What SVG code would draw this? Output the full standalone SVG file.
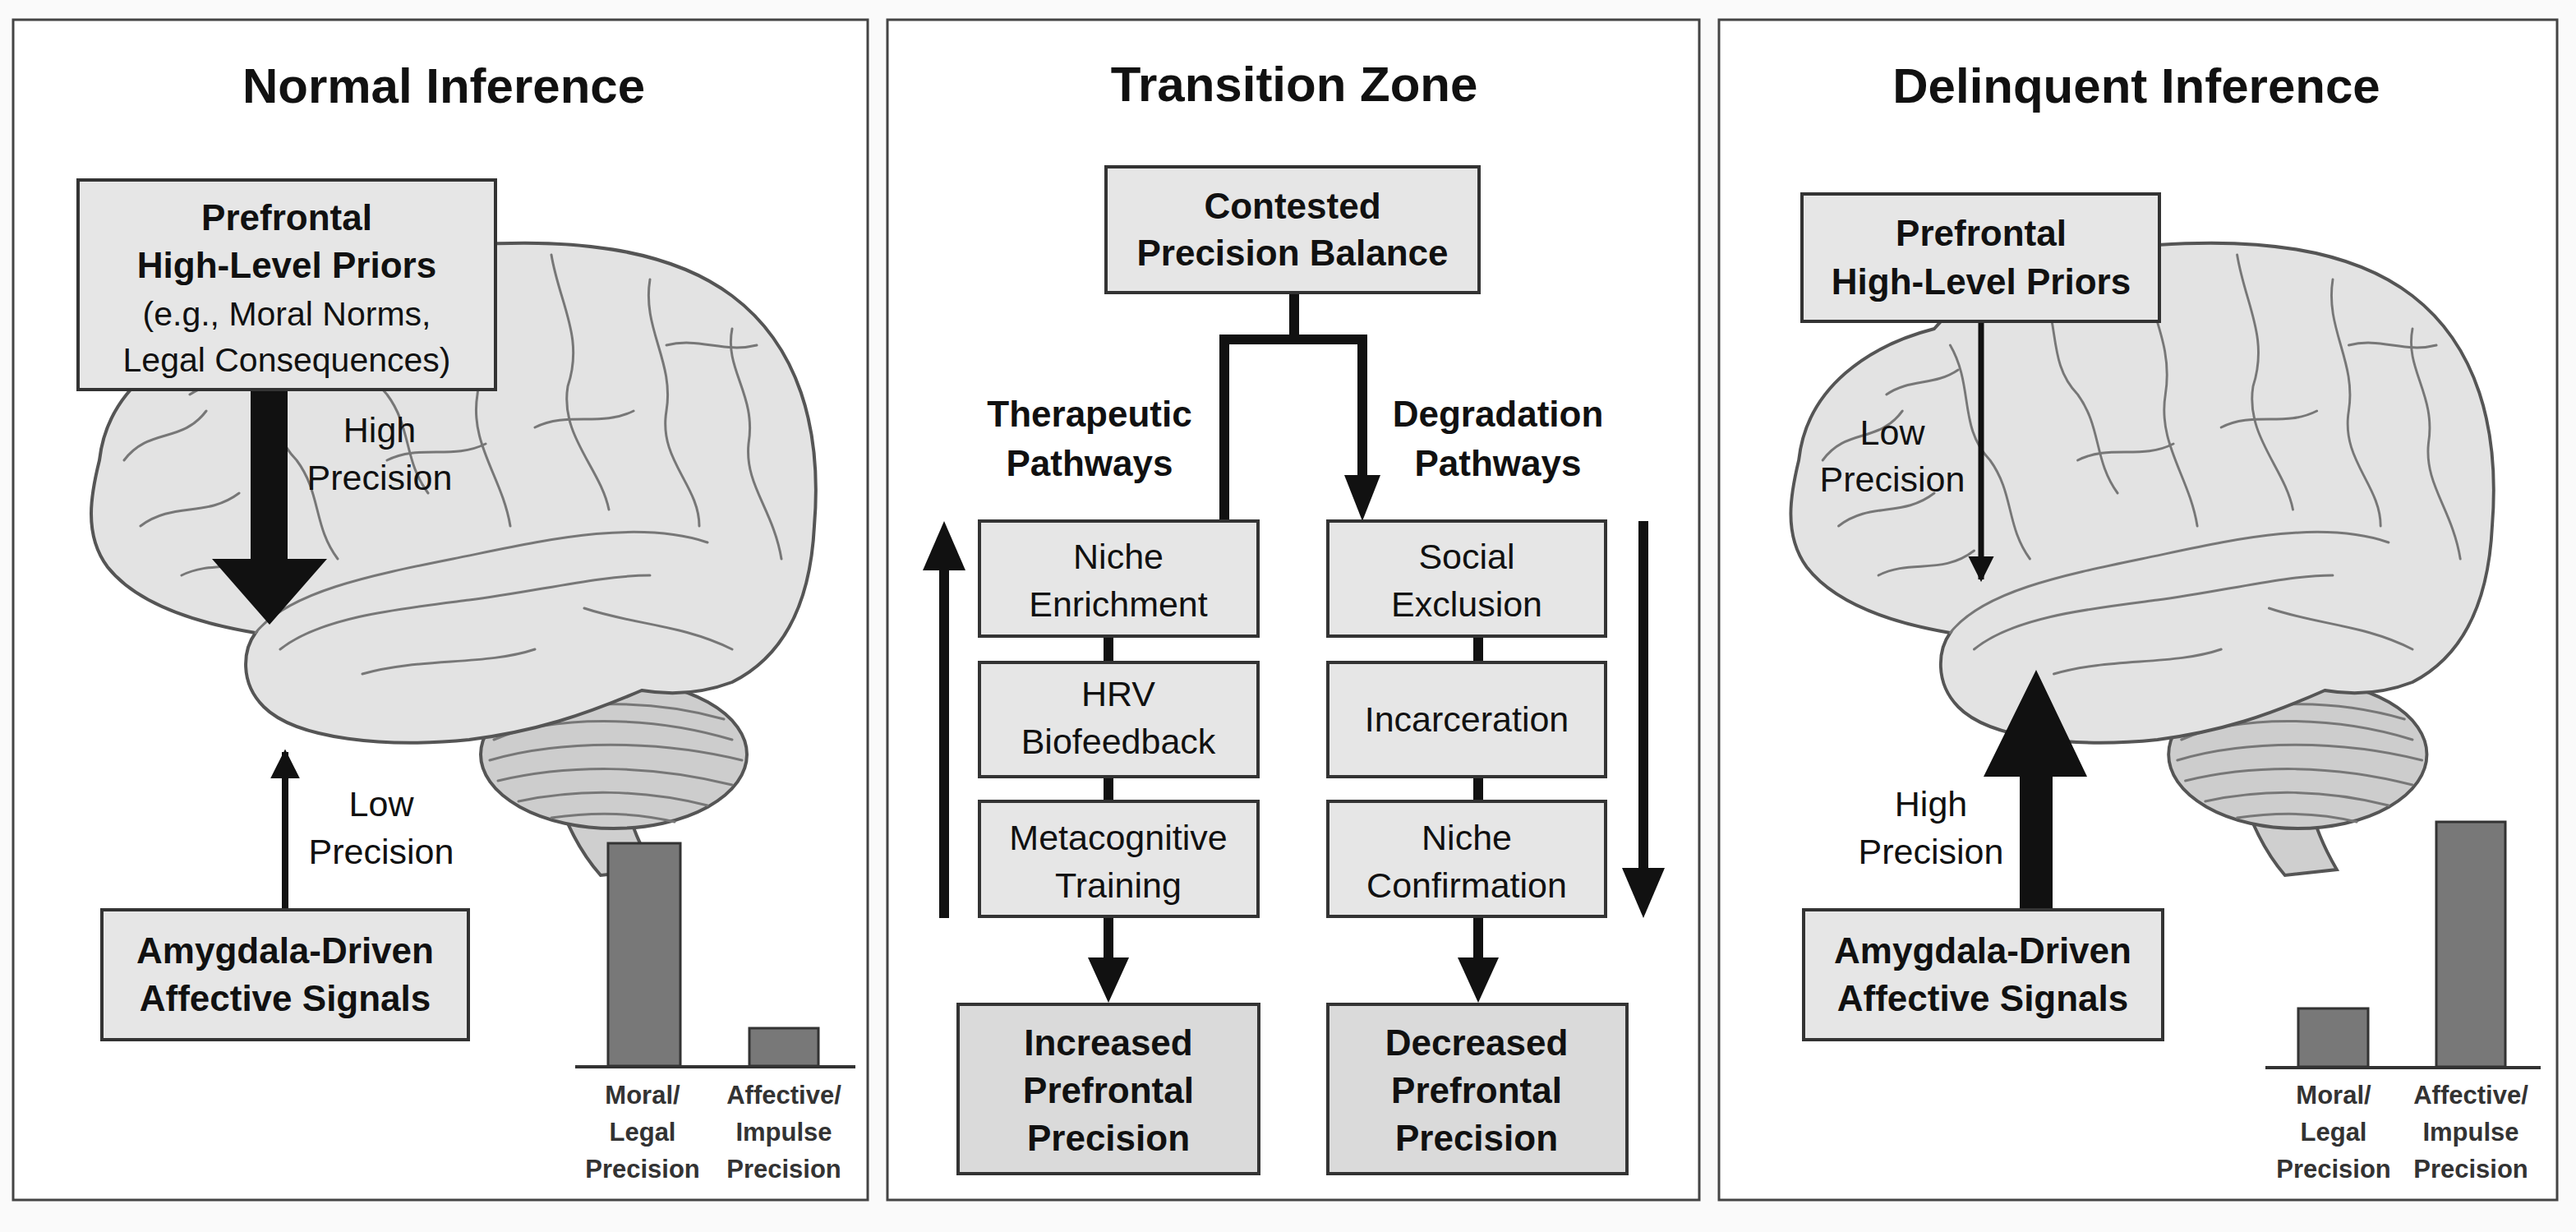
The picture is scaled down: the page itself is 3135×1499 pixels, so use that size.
<svg xmlns="http://www.w3.org/2000/svg" width="3135" height="1499" viewBox="0 0 3135 1499">
<style>
text{font-family:"Liberation Sans",Arial,sans-serif;fill:#111;text-anchor:middle}
.t{font-size:60px;font-weight:bold}
.b{font-size:44px;font-weight:bold}
.n{font-size:43px}
.s{font-size:41px}
.l{font-size:31px;font-weight:bold;fill:#333}
.panel{fill:#fff;stroke:#444;stroke-width:3}
.box{fill:#e6e6e6;stroke:#333;stroke-width:4}
.box2{fill:#dadada;stroke:#333;stroke-width:4}
.bar{fill:#787878;stroke:#333;stroke-width:3}
.ln{stroke:#111;stroke-width:12;fill:none}
.g{fill:none;stroke:#777;stroke-width:3;stroke-linecap:round}
</style>
<defs>
<g id="brain">
<path d="M560,870 C580,960 600,1020 640,1065 L705,1058 C670,1000 660,950 665,880 Z" fill="#cfcfcf" stroke="#555" stroke-width="4"/>
<ellipse cx="656" cy="918" rx="162" ry="90" fill="#cdcdcd" stroke="#555" stroke-width="4"/>
<g class="g" stroke-width="2">
<path d="M510,900 C580,870 700,870 800,900"/><path d="M505,925 C590,900 710,900 812,925"/><path d="M515,950 C600,930 700,930 800,955"/><path d="M540,975 C610,960 690,960 770,980"/><path d="M580,995 C630,988 680,988 730,1000"/><path d="M520,880 C600,850 700,850 790,875"/>
</g>
<path d="M30,560 C40,470 120,420 200,400 C260,330 380,300 480,298 C600,290 720,300 800,360 C880,420 910,520 900,640 C895,740 860,800 800,830 C760,845 720,845 690,840 C620,870 560,890 480,900 C380,910 270,900 230,860 C200,830 205,790 220,770 C160,760 80,740 40,690 C10,650 20,600 30,560 Z" fill="#e3e3e3" stroke="#555" stroke-width="4"/>
<path d="M220,770 C260,720 360,700 460,680 C560,660 680,630 770,660" class="g" stroke="#555" stroke-width="4"/>
<path d="M250,790 C300,750 400,740 480,730 C560,720 640,700 700,700" class="g"/>
<g class="g">
<path d="M60,560 C90,520 130,540 160,500"/><path d="M80,640 C120,610 160,630 200,600"/><path d="M130,700 C170,680 210,700 250,670"/>
<path d="M220,420 C250,470 230,520 270,560 C300,600 290,640 320,680"/><path d="M330,340 C360,390 340,440 380,480 C410,520 400,560 430,600"/>
<path d="M460,320 C470,380 500,420 490,480 C480,540 520,580 530,640"/><path d="M580,310 C590,370 620,410 600,470 C590,530 640,570 650,620"/>
<path d="M700,340 C690,400 730,440 720,500 C710,560 760,590 760,640"/><path d="M800,400 C790,450 830,480 820,540 C815,590 850,620 860,680"/>
<path d="M620,740 C680,760 740,760 800,790"/><path d="M350,820 C420,800 500,810 560,790"/><path d="M140,480 C170,460 200,470 230,450"/>
<path d="M560,520 C600,500 640,520 680,500"/><path d="M380,560 C420,540 460,560 500,540"/><path d="M720,420 C760,410 790,430 830,420"/>
</g>
</g>
<marker id="ah" viewBox="0 0 10 10" refX="9" refY="5" markerWidth="4.5" markerHeight="5" orient="auto" markerUnits="strokeWidth"><path d="M0,0 L10,5 L0,10 Z" fill="#111"/></marker>
</defs>
<rect width="3135" height="1499" fill="#fafafa"/>

<g id="panel-normal">
<rect class="panel" x="16" y="24" width="1040" height="1436"/>
<text class="t" x="540" y="125">Normal Inference</text>
<use href="#brain" transform="translate(91,0)"/>
</g>
<g id="panel-transition">
<rect class="panel" x="1080" y="24" width="988" height="1436"/>
<text class="t" x="1575" y="123">Transition Zone</text>
</g>
<g id="panel-delinquent">
<rect class="panel" x="2092" y="24" width="1020" height="1436"/>
<text class="t" x="2600" y="125">Delinquent Inference</text>
<use href="#brain" transform="translate(2160,0) scale(0.97,1) "/>
</g>

<g id="connectors">
<!-- panel 1 -->
<path d="M305,474 L350,474 L350,680 L398,680 L328,760 L258,680 L305,680 Z" fill="#111"/>
<line x1="347" y1="1107" x2="347" y2="915" stroke="#111" stroke-width="8" marker-end="url(#ah)"/>
<!-- panel 3 -->
<line x1="2411" y1="391" x2="2411" y2="705" stroke="#111" stroke-width="7" marker-end="url(#ah)"/>
<path d="M2458,1107 L2498,1107 L2498,945 L2540,945 L2478,815 L2414,945 L2458,945 Z" fill="#111"/>
<!-- panel 2 -->
<path class="ln" d="M1575,356 L1575,413 M1490,407 L1490,634 M1484,413 L1664,413 M1658,407 L1658,580"/>
<path d="M1636,578 L1680,578 L1658,634 Z" fill="#111"/>
<line class="ln" x1="1349" y1="774" x2="1349" y2="806"/>
<line class="ln" x1="1349" y1="945" x2="1349" y2="975"/>
<line class="ln" x1="1799" y1="774" x2="1799" y2="806"/>
<line class="ln" x1="1799" y1="945" x2="1799" y2="975"/>
<line class="ln" x1="1349" y1="1115" x2="1349" y2="1170"/>
<path d="M1324,1165 L1374,1165 L1349,1220 Z" fill="#111"/>
<line class="ln" x1="1799" y1="1115" x2="1799" y2="1170"/>
<path d="M1774,1165 L1824,1165 L1799,1220 Z" fill="#111"/>
<line class="ln" x1="1149" y1="1117" x2="1149" y2="690"/>
<path d="M1123,694 L1175,694 L1149,634 Z" fill="#111"/>
<line class="ln" x1="2000" y1="634" x2="2000" y2="1060"/>
<path d="M1974,1056 L2026,1056 L2000,1117 Z" fill="#111"/>
</g>

<g id="n1-prefrontal"><rect class="box" x="95" y="219" width="508" height="255"/>
<text class="b" x="349" y="280">Prefrontal</text><text class="b" x="349" y="338">High-Level Priors</text>
<text class="s" x="349" y="396">(e.g., Moral Norms,</text><text class="s" x="349" y="452">Legal Consequences)</text></g>
<g id="n1-highlabel"><text class="n" x="462" y="538">High</text><text class="n" x="462" y="596">Precision</text></g>
<g id="n1-lowlabel"><text class="n" x="464" y="993">Low</text><text class="n" x="464" y="1051">Precision</text></g>
<g id="n1-amygdala"><rect class="box" x="124" y="1107" width="446" height="158"/>
<text class="b" x="347" y="1172">Amygdala-Driven</text><text class="b" x="347" y="1230">Affective Signals</text></g>
<g id="n1-bars">
<rect class="bar" x="740" y="1026" width="88" height="271"/><rect class="bar" x="912" y="1251" width="84" height="46"/>
<line x1="700" y1="1298" x2="1041" y2="1298" stroke="#333" stroke-width="4"/>
<text class="l" x="782" y="1343">Moral/</text><text class="l" x="782" y="1388">Legal</text><text class="l" x="782" y="1433">Precision</text>
<text class="l" x="954" y="1343">Affective/</text><text class="l" x="954" y="1388">Impulse</text><text class="l" x="954" y="1433">Precision</text></g>

<g id="n2-contested"><rect class="box" x="1346" y="203" width="454" height="153"/>
<text class="b" x="1573" y="266">Contested</text><text class="b" x="1573" y="323">Precision Balance</text></g>
<g id="n2-ther-label"><text class="b" x="1326" y="519">Therapeutic</text><text class="b" x="1326" y="579">Pathways</text></g>
<g id="n2-deg-label"><text class="b" x="1823" y="519">Degradation</text><text class="b" x="1823" y="579">Pathways</text></g>
<g id="n2-niche-enrich"><rect class="box" x="1192" y="634" width="339" height="140"/>
<text class="n" x="1361" y="692">Niche</text><text class="n" x="1361" y="750">Enrichment</text></g>
<g id="n2-hrv"><rect class="box" x="1192" y="806" width="339" height="139"/>
<text class="n" x="1361" y="859">HRV</text><text class="n" x="1361" y="917">Biofeedback</text></g>
<g id="n2-meta"><rect class="box" x="1192" y="975" width="339" height="140"/>
<text class="n" x="1361" y="1034">Metacognitive</text><text class="n" x="1361" y="1092">Training</text></g>
<g id="n2-social"><rect class="box" x="1616" y="634" width="338" height="140"/>
<text class="n" x="1785" y="692">Social</text><text class="n" x="1785" y="750">Exclusion</text></g>
<g id="n2-incarc"><rect class="box" x="1616" y="806" width="338" height="139"/>
<text class="n" x="1785" y="890">Incarceration</text></g>
<g id="n2-niche-conf"><rect class="box" x="1616" y="975" width="338" height="140"/>
<text class="n" x="1785" y="1034">Niche</text><text class="n" x="1785" y="1092">Confirmation</text></g>
<g id="n2-increased"><rect class="box2" x="1166" y="1222" width="366" height="206"/>
<text class="b" x="1349" y="1284">Increased</text><text class="b" x="1349" y="1342">Prefrontal</text><text class="b" x="1349" y="1400">Precision</text></g>
<g id="n2-decreased"><rect class="box2" x="1616" y="1222" width="364" height="206"/>
<text class="b" x="1797" y="1284">Decreased</text><text class="b" x="1797" y="1342">Prefrontal</text><text class="b" x="1797" y="1400">Precision</text></g>

<g id="n3-prefrontal"><rect class="box" x="2193" y="236" width="435" height="155"/>
<text class="b" x="2411" y="299">Prefrontal</text><text class="b" x="2411" y="358">High-Level Priors</text></g>
<g id="n3-lowlabel"><text class="n" x="2303" y="541">Low</text><text class="n" x="2303" y="598">Precision</text></g>
<g id="n3-highlabel"><text class="n" x="2350" y="993">High</text><text class="n" x="2350" y="1051">Precision</text></g>
<g id="n3-amygdala"><rect class="box" x="2195" y="1107" width="437" height="158"/>
<text class="b" x="2413" y="1172">Amygdala-Driven</text><text class="b" x="2413" y="1230">Affective Signals</text></g>
<g id="n3-bars">
<rect class="bar" x="2797" y="1227" width="85" height="71"/><rect class="bar" x="2965" y="1000" width="84" height="298"/>
<line x1="2757" y1="1299" x2="3092" y2="1299" stroke="#333" stroke-width="4"/>
<text class="l" x="2840" y="1343">Moral/</text><text class="l" x="2840" y="1388">Legal</text><text class="l" x="2840" y="1433">Precision</text>
<text class="l" x="3007" y="1343">Affective/</text><text class="l" x="3007" y="1388">Impulse</text><text class="l" x="3007" y="1433">Precision</text></g>
</svg>
